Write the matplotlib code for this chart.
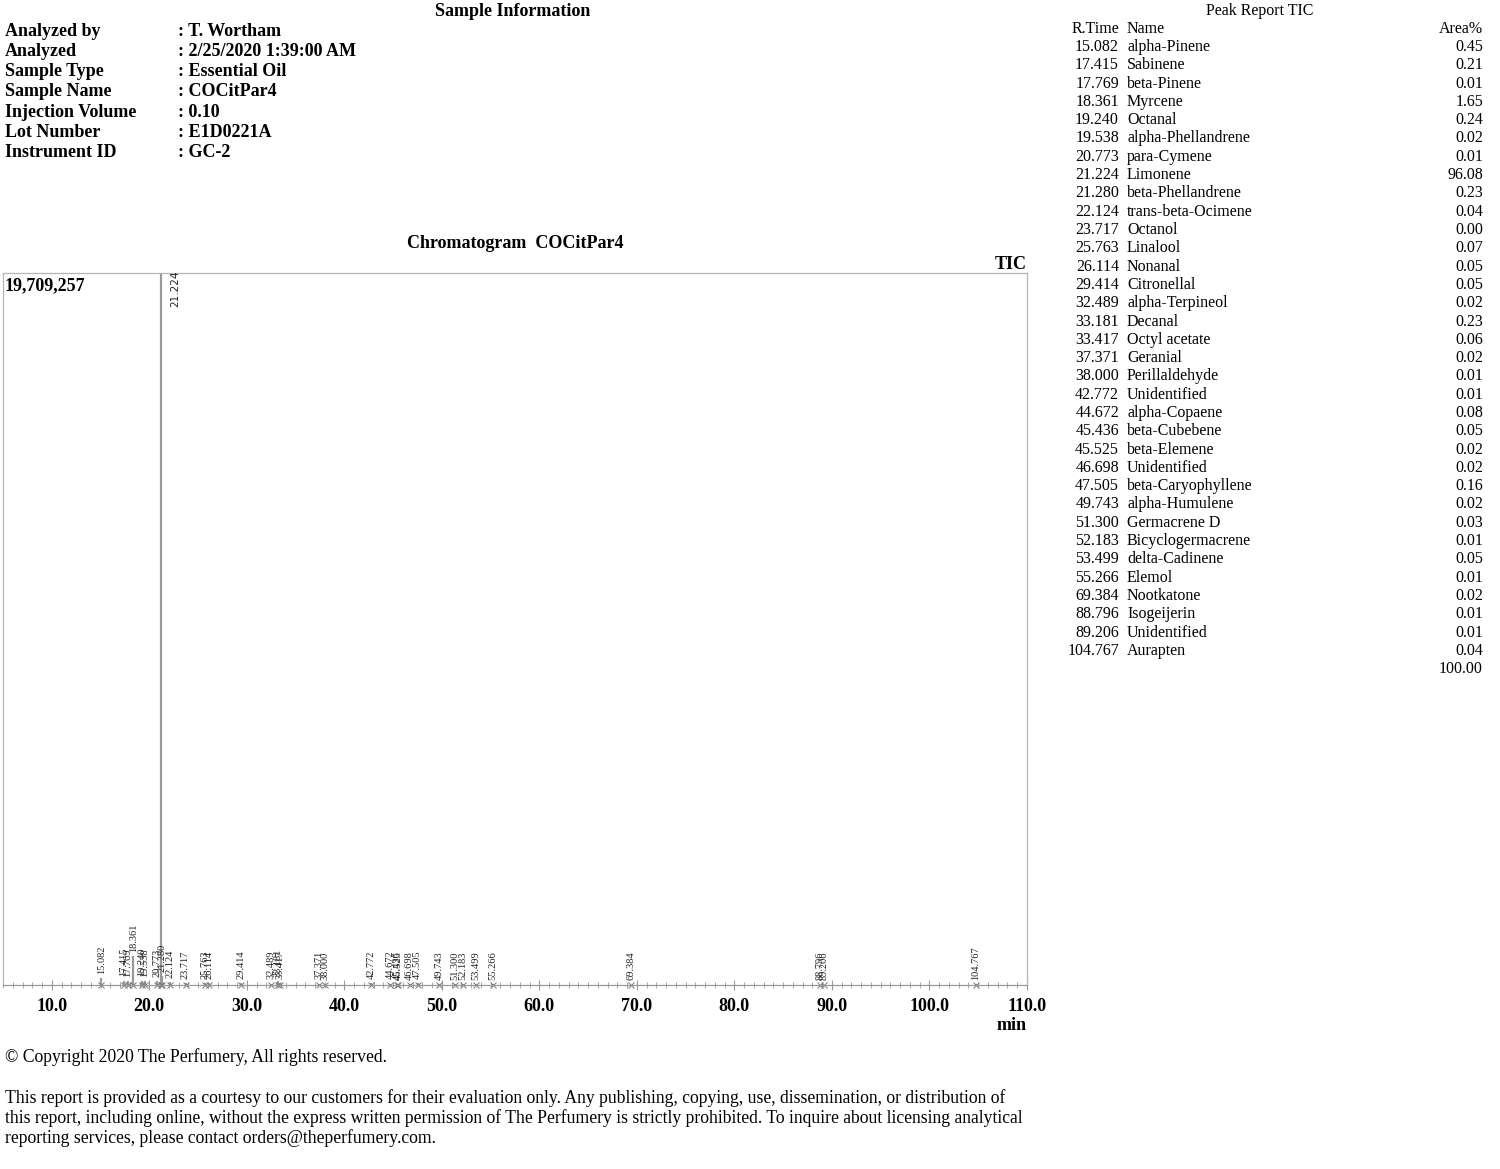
import matplotlib
matplotlib.use("Agg")
import matplotlib.pyplot as plt
from matplotlib.ticker import MultipleLocator, FormatStrFormatter

plt.rcParams['font.family'] = ['Liberation Serif', 'DejaVu Serif']

W, H = 1500, 1169

# --- sample info ---
info_labels = ["Analyzed by", "Analyzed", "Sample Type", "Sample Name",
               "Injection Volume", "Lot Number", "Instrument ID"]
info_values = [": T. Wortham", ": 2/25/2020 1:39:00 AM", ": Essential Oil",
               ": COCitPar4", ": 0.10", ": E1D0221A", ": GC-2"]

# --- peak report ---
rt = [15.082, 17.415, 17.769, 18.361, 19.240, 19.538, 20.773, 21.224, 21.280,
      22.124, 23.717, 25.763, 26.114, 29.414, 32.489, 33.181, 33.417, 37.371,
      38.000, 42.772, 44.672, 45.436, 45.525, 46.698, 47.505, 49.743, 51.300,
      52.183, 53.499, 55.266, 69.384, 88.796, 89.206, 104.767]
names = ["alpha-Pinene", "Sabinene", "beta-Pinene", "Myrcene", "Octanal",
         "alpha-Phellandrene", "para-Cymene", "Limonene", "beta-Phellandrene",
         "trans-beta-Ocimene", "Octanol", "Linalool", "Nonanal", "Citronellal",
         "alpha-Terpineol", "Decanal", "Octyl acetate", "Geranial",
         "Perillaldehyde", "Unidentified", "alpha-Copaene", "beta-Cubebene",
         "beta-Elemene", "Unidentified", "beta-Caryophyllene", "alpha-Humulene",
         "Germacrene D", "Bicyclogermacrene", "delta-Cadinene", "Elemol",
         "Nootkatone", "Isogeijerin", "Unidentified", "Aurapten"]
area = ["0.45", "0.21", "0.01", "1.65", "0.24", "0.02", "0.01", "96.08", "0.23",
        "0.04", "0.00", "0.07", "0.05", "0.05", "0.02", "0.23", "0.06", "0.02",
        "0.01", "0.01", "0.08", "0.05", "0.02", "0.02", "0.16", "0.02", "0.03",
        "0.01", "0.05", "0.01", "0.02", "0.01", "0.01", "0.04"]
area_total = "100.00"

# estimated peak heights (intensity)
y_max = 19709257
heights = [200000, 120000, 100000, 800000, 120000, 100000, 100000, y_max, 250000,
           80000, 50000, 60000, 50000, 50000, 40000, 100000, 50000, 40000,
           30000, 50000, 40000, 30000, 20000, 30000, 60000, 20000, 30000,
           20000, 30000, 20000, 10000, 10000, 10000, 20000]


def ft(x, y, s, **kw):
    fig.text(x / W, 1 - y / H, s, **kw)


fig = plt.figure(figsize=(15, 11.69), dpi=100)

# header block
ft(513, 11, "Sample Information", ha="center", va="center", fontsize=13, fontweight="bold")
for i, (lab, val) in enumerate(zip(info_labels, info_values)):
    y = 31 + i * 20.3
    ft(5, y, lab, ha="left", va="center", fontsize=13, fontweight="bold")
    ft(178, y, val, ha="left", va="center", fontsize=13, fontweight="bold")

# chromatogram
ft(515, 244, "Chromatogram  COCitPar4", ha="center", va="center", fontsize=13, fontweight="bold")
ft(1027, 264, "TIC", ha="right", va="center", fontsize=13, fontweight="bold")

ax = fig.add_axes([3 / W, 1 - 985 / H, 1024 / W, 712 / H])
ax.vlines(rt, 0, heights, color="#9a9a9a", lw=1.6)
ax.plot(rt, [0] * len(rt), ls="none", marker="x", ms=4, mew=0.7, color="#777777",
        clip_on=False)
for t, h in zip(rt, heights):
    lab = f"{t:.3f}"
    if h >= y_max:
        ax.annotate(lab, (t, h), xytext=(10, 2), textcoords="offset points",
                    rotation=90, ha="center", va="top", fontsize=7.5,
                    family=["DejaVu Sans"], color="#222222", annotation_clip=False)
    else:
        ax.annotate(lab, (t, h), xytext=(0, 3), textcoords="offset points",
                    rotation=90, ha="center", va="bottom", fontsize=7.5,
                    color="#222222")

ax.set_xlim(5, 110)
ax.set_ylim(0, y_max)
ax.set_yticks([])
ax.xaxis.set_major_locator(MultipleLocator(10))
ax.xaxis.set_minor_locator(MultipleLocator(1))
ax.xaxis.set_major_formatter(FormatStrFormatter("%.1f"))
ax.tick_params(axis="x", which="major", direction="inout", length=7, width=0.8,
               color="#999999", pad=6, labelsize=13)
ax.tick_params(axis="x", which="minor", direction="inout", length=5, width=0.6,
               color="#999999")
for lbl in ax.get_xticklabels():
    lbl.set_fontweight("bold")
for s in ax.spines.values():
    s.set_color("#b5b5b5")
    s.set_linewidth(0.9)
ax.spines["bottom"].set_color("#999999")
ft(5, 286, "19,709,257", ha="left", va="center", fontsize=13, fontweight="bold")
ft(1027, 1026, "min", ha="right", va="center", fontsize=13, fontweight="bold")

# peak report table
ft(1260, 11, "Peak Report TIC", ha="center", va="center", fontsize=11.5)
ft(1119, 29, "R.Time", ha="right", va="center", fontsize=11.5)
ft(1127, 29, "Name", ha="left", va="center", fontsize=11.5)
ft(1483, 29, "Area%", ha="right", va="center", fontsize=11.5)
for i, (t, n, a) in enumerate(zip(rt, names, area)):
    y = 47 + i * 18.3
    ft(1119, y, f"{t:.3f}", ha="right", va="center", fontsize=11.5)
    ft(1127, y, n, ha="left", va="center", fontsize=11.5)
    ft(1483, y, a, ha="right", va="center", fontsize=11.5)
ft(1483, 47 + len(rt) * 18.3, area_total, ha="right", va="center", fontsize=11.5)

# footer
ft(5, 1057, "\u00a9 Copyright 2020 The Perfumery, All rights reserved.",
   ha="left", va="center", fontsize=12.7)
footer = [
    "This report is provided as a courtesy to our customers for their evaluation only. Any publishing, copying, use, dissemination, or distribution of",
    "this report, including online, without the express written permission of The Perfumery is strictly prohibited. To inquire about licensing analytical",
    "reporting services, please contact orders@theperfumery.com.",
]
for i, line in enumerate(footer):
    ft(5, 1098 + i * 20.2, line, ha="left", va="center", fontsize=12.7)

fig.savefig("out.png", dpi=100)
